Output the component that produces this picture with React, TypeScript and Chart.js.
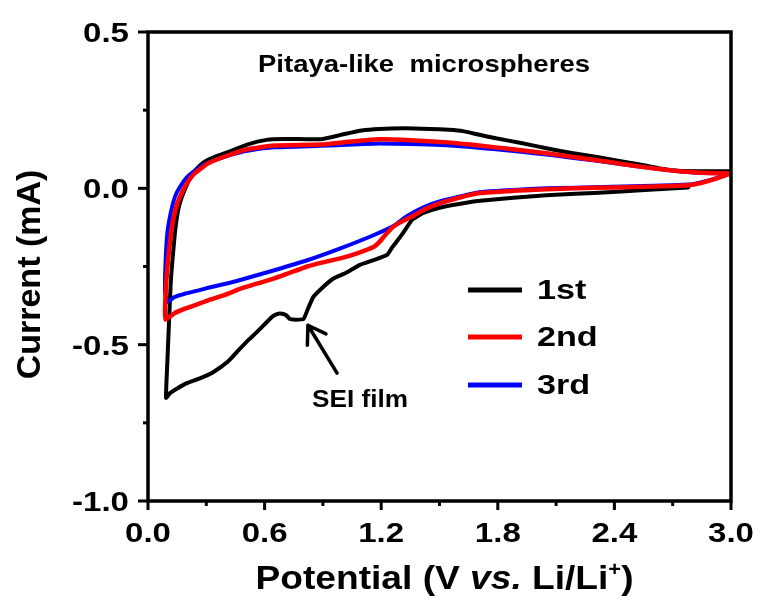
import React, { useEffect, useRef } from "react";
import { Chart, registerables } from "chart.js";

Chart.register(...registerables);

// ---- Data (Potential V, Current mA) ----
// 1st cycle: cathodic sweep from OCV down to 0.09 V, then anodic back to 3.0 V
const cycle1V = [
  2.78, 2.6, 2.39, 2.2, 2.05, 1.88, 1.71, 1.6, 1.5, 1.42, 1.36, 1.31, 1.28, 1.255, 1.23, 1.16, 1.09, 1.02, 0.95,
  0.885, 0.85, 0.82, 0.8, 0.76, 0.73, 0.71, 0.68, 0.66, 0.64, 0.6, 0.56, 0.52, 0.47, 0.41, 0.335, 0.27, 0.2, 0.15,
  0.113, 0.093,
  0.1, 0.11, 0.118, 0.13, 0.14, 0.155, 0.17, 0.19, 0.21, 0.24, 0.27, 0.3, 0.34, 0.43, 0.51, 0.61, 0.7, 0.89, 1.0,
  1.1, 1.19, 1.32, 1.45, 1.55, 1.62, 1.7, 1.79, 1.92, 2.05, 2.18, 2.31, 2.44, 2.56, 2.65, 2.72, 2.85, 3.0,
];
const cycle1I = [
  0.003, -0.004, -0.012, -0.017, -0.022, -0.03, -0.04, -0.05, -0.062, -0.078, -0.1, -0.145, -0.17, -0.19, -0.213,
  -0.23, -0.245, -0.27, -0.29, -0.325, -0.348, -0.39, -0.418, -0.42, -0.418, -0.405, -0.4, -0.403, -0.41, -0.435,
  -0.46, -0.483, -0.515, -0.555, -0.588, -0.607, -0.623, -0.64, -0.655, -0.67,
  -0.55, -0.4, -0.29, -0.2, -0.134, -0.07, -0.035, -0.003, 0.025, 0.055, 0.075, 0.088, 0.1, 0.12, 0.14, 0.155,
  0.158, 0.157, 0.172, 0.185, 0.19, 0.192, 0.19, 0.187, 0.183, 0.172, 0.16, 0.145, 0.128, 0.113, 0.1, 0.086, 0.073,
  0.062, 0.056, 0.055, 0.055,
];

// 2nd cycle
const cycle2V = [
  3.0, 2.92, 2.85, 2.78, 2.6, 2.39, 2.2, 2.05, 1.88, 1.71, 1.6, 1.5, 1.42, 1.37, 1.3, 1.26, 1.22, 1.19, 1.16, 1.08,
  0.99, 0.9, 0.82, 0.73, 0.65, 0.56, 0.48, 0.4, 0.31, 0.25, 0.19, 0.135, 0.09,
  0.088, 0.095, 0.11, 0.13, 0.15, 0.18, 0.21, 0.24, 0.31, 0.41, 0.51, 0.65, 0.89, 1.05, 1.19, 1.35, 1.54, 1.66,
  1.79, 1.92, 2.05, 2.18, 2.31, 2.44, 2.56, 2.7, 2.82, 3.0,
];
const cycle2I = [
  0.048, 0.03, 0.018, 0.01, 0.006, 0.003, 0.0, -0.003, -0.008, -0.015, -0.03, -0.048, -0.068, -0.086, -0.108,
  -0.124, -0.15, -0.172, -0.188, -0.207, -0.224, -0.237, -0.25, -0.27, -0.288, -0.305, -0.32, -0.34, -0.358, -0.372,
  -0.385, -0.4, -0.42,
  -0.38, -0.29, -0.19, -0.1, -0.05, -0.006, 0.025, 0.048, 0.08, 0.105, 0.125, 0.137, 0.14, 0.15, 0.157, 0.154, 0.147,
  0.14, 0.131, 0.122, 0.112, 0.101, 0.09, 0.078, 0.067, 0.057, 0.051, 0.048,
];

// 3rd cycle
const cycle3V = [
  3.0, 2.92, 2.85, 2.78, 2.6, 2.39, 2.2, 2.05, 1.88, 1.71, 1.6, 1.5, 1.42, 1.33, 1.27, 1.16, 0.99, 0.82, 0.65, 0.47,
  0.4, 0.31, 0.25, 0.19, 0.135, 0.1,
  0.088, 0.09, 0.1, 0.12, 0.14, 0.165, 0.2, 0.24, 0.31, 0.41, 0.51, 0.65, 0.89, 1.05, 1.19, 1.35, 1.54, 1.66, 1.79,
  1.92, 2.05, 2.18, 2.31, 2.44, 2.56, 2.7, 2.82, 3.0,
];
const cycle3I = [
  0.048, 0.032, 0.02, 0.012, 0.008, 0.005, 0.002, 0.0, -0.005, -0.012, -0.027, -0.042, -0.06, -0.09, -0.118, -0.15,
  -0.192, -0.23, -0.262, -0.294, -0.305, -0.318, -0.328, -0.337, -0.348, -0.364,
  -0.33, -0.24, -0.14, -0.07, -0.025, 0.005, 0.035, 0.056, 0.082, 0.104, 0.12, 0.131, 0.136, 0.14, 0.143, 0.142,
  0.138, 0.132, 0.125, 0.117, 0.108, 0.098, 0.088, 0.077, 0.067, 0.057, 0.05, 0.048,
];

const seriesNames = ["1st", "2nd", "3rd"];
const seriesColors = ["#000000", "#ff0000", "#0000ff"];

// ---- Axis ticks ----
const xMajorTicks = [0, 0.6, 1.2, 1.8, 2.4, 3.0];
const xTickLabels = ["0.0", "0.6", "1.2", "1.8", "2.4", "3.0"];
const xMinorTicks = [0.3, 0.9, 1.5, 2.1, 2.7];
const yMajorTicks = [0.5, 0.0, -0.5, -1.0];
const yTickLabels = ["0.5", "0.0", "-0.5", "-1.0"];
const yMinorTicks = [0.25, -0.25, -0.75];

// annotation: arrow pointing to SEI film feature (data coordinates)
const arrowTip = { x: 0.823, y: -0.438 };
const arrowTail = { x: 0.973, y: -0.591 };

const FONT = '"Liberation Sans", Arial, sans-serif';

function toPoints(xs: number[], ys: number[]) {
  return xs.map((x, i) => ({ x, y: ys[i] }));
}

function drawText(
  ctx: CanvasRenderingContext2D,
  text: string,
  x: number,
  y: number,
  font: string,
  align: "left" | "center" | "right",
  scaleX: number
) {
  ctx.save();
  ctx.font = font;
  ctx.textAlign = "left";
  ctx.textBaseline = "alphabetic";
  const w = ctx.measureText(text).width * scaleX;
  const left = align === "center" ? x - w / 2 : align === "right" ? x - w : x;
  ctx.translate(left, y);
  ctx.scale(scaleX, 1);
  ctx.fillText(text, 0, 0);
  ctx.restore();
}

const decorPlugin = {
  id: "decor",
  afterDraw(chart: any) {
    const ctx: CanvasRenderingContext2D = chart.ctx;
    const xs = chart.scales.x;
    const ys = chart.scales.y;
    const { left, right, top, bottom } = chart.chartArea;
    ctx.save();
    ctx.fillStyle = "#000";
    ctx.strokeStyle = "#000";

    // frame
    ctx.lineWidth = 3.5;
    ctx.lineJoin = "miter";
    ctx.strokeRect(left, top, right - left, bottom - top);

    // ticks
    ctx.lineWidth = 3;
    ctx.lineCap = "butt";
    const tick = (x1: number, y1: number, x2: number, y2: number) => {
      ctx.beginPath();
      ctx.moveTo(x1, y1);
      ctx.lineTo(x2, y2);
      ctx.stroke();
    };
    xMajorTicks.forEach((v) => {
      const px = xs.getPixelForValue(v);
      tick(px, bottom, px, bottom + 9);
    });
    xMinorTicks.forEach((v) => {
      const px = xs.getPixelForValue(v);
      tick(px, bottom, px, bottom + 5);
    });
    yMajorTicks.forEach((v) => {
      const py = ys.getPixelForValue(v);
      tick(left, py, left - 10, py);
    });
    yMinorTicks.forEach((v) => {
      const py = ys.getPixelForValue(v);
      tick(left, py, left - 5, py);
    });

    // tick labels
    const tickFont = `bold 28px ${FONT}`;
    xMajorTicks.forEach((v, i) => {
      drawText(ctx, xTickLabels[i], xs.getPixelForValue(v), bottom + 41, tickFont, "center", 1.18);
    });
    yMajorTicks.forEach((v, i) => {
      drawText(ctx, yTickLabels[i], left - 19, ys.getPixelForValue(v) + 10, tickFont, "right", 1.18);
    });

    // y axis title
    ctx.save();
    ctx.translate(31, (top + bottom) / 2 + 8);
    ctx.rotate(-Math.PI / 2);
    ctx.font = `bold 34px ${FONT}`;
    ctx.textAlign = "center";
    ctx.textBaseline = "middle";
    ctx.fillText("Current (mA)", 0, 0);
    ctx.restore();

    // x axis title with mixed styles
    const parts = [
      { t: "Potential (V ", f: `bold 34px ${FONT}`, dy: 0 },
      { t: "vs.", f: `italic bold 34px ${FONT}`, dy: 0 },
      { t: " Li/Li", f: `bold 34px ${FONT}`, dy: 0 },
      { t: "+", f: `bold 20px ${FONT}`, dy: -13 },
      { t: ")", f: `bold 34px ${FONT}`, dy: 0 },
    ];
    let natural = 0;
    parts.forEach((p) => {
      ctx.font = p.f;
      natural += ctx.measureText(p.t).width;
    });
    const targetW = 378;
    const sx = targetW / natural;
    let cx = (left + right) / 2 + 5 - targetW / 2;
    const baseY = 589;
    parts.forEach((p) => {
      ctx.font = p.f;
      const w = ctx.measureText(p.t).width * sx;
      drawText(ctx, p.t, cx, baseY + p.dy, p.f, "left", sx);
      cx += w;
    });

    // inner title
    {
      const f = `bold 24px ${FONT}`;
      ctx.font = f;
      const t = "Pitaya-like  microspheres";
      const s = 332 / ctx.measureText(t).width;
      drawText(ctx, t, 258, 72, f, "left", s);
    }

    // SEI film label
    {
      const f = `bold 23px ${FONT}`;
      ctx.font = f;
      const t = "SEI film";
      const s = 96 / ctx.measureText(t).width;
      drawText(ctx, t, 312, 407, f, "left", s);
    }

    // arrow
    {
      const tx = xs.getPixelForValue(arrowTip.x);
      const ty = ys.getPixelForValue(arrowTip.y);
      const bx = xs.getPixelForValue(arrowTail.x);
      const by = ys.getPixelForValue(arrowTail.y);
      const ang = Math.atan2(by - ty, bx - tx);
      const spread = (33 * Math.PI) / 180;
      const len = 20;
      ctx.lineWidth = 3.5;
      ctx.lineCap = "round";
      ctx.lineJoin = "round";
      ctx.beginPath();
      ctx.moveTo(bx, by);
      ctx.lineTo(tx, ty);
      ctx.moveTo(tx + len * Math.cos(ang - spread), ty + len * Math.sin(ang - spread));
      ctx.lineTo(tx, ty);
      ctx.lineTo(tx + len * Math.cos(ang + spread), ty + len * Math.sin(ang + spread));
      ctx.stroke();
    }

    // legend
    const legendY = [290, 337, 385];
    seriesNames.forEach((name, i) => {
      ctx.strokeStyle = seriesColors[i];
      ctx.lineWidth = 5;
      ctx.lineCap = "butt";
      ctx.beginPath();
      ctx.moveTo(468, legendY[i]);
      ctx.lineTo(522, legendY[i]);
      ctx.stroke();
      ctx.fillStyle = "#000";
      drawText(ctx, name, 537, legendY[i] + 9, `bold 28px ${FONT}`, "left", 1.22);
    });

    ctx.restore();
  },
};

export default function App() {
  const canvasRef = useRef<HTMLCanvasElement | null>(null);

  useEffect(() => {
    const canvas = canvasRef.current;
    if (!canvas) return;
    const chart = new Chart(canvas, {
      type: "line",
      data: {
        datasets: [
          {
            label: seriesNames[0],
            data: toPoints(cycle1V, cycle1I),
            borderColor: seriesColors[0],
            borderWidth: 4,
            order: 3,
          },
          {
            label: seriesNames[1],
            data: toPoints(cycle2V, cycle2I),
            borderColor: seriesColors[1],
            borderWidth: 4.5,
            order: 1,
          },
          {
            label: seriesNames[2],
            data: toPoints(cycle3V, cycle3I),
            borderColor: seriesColors[2],
            borderWidth: 4,
            order: 2,
          },
        ],
      },
      options: {
        animation: false,
        responsive: true,
        maintainAspectRatio: false,
        devicePixelRatio: 1,
        layout: { padding: { left: 148, right: 30, top: 32, bottom: 100 } },
        elements: {
          point: { radius: 0, hoverRadius: 0 },
          line: { tension: 0.15, fill: false, borderJoinStyle: "round", borderCapStyle: "round" },
        },
        scales: {
          x: { type: "linear", min: 0, max: 3, display: false },
          y: { type: "linear", min: -1, max: 0.5, display: false },
        },
        plugins: {
          legend: { display: false },
          tooltip: { enabled: false },
        },
      },
      plugins: [decorPlugin],
    });
    return () => chart.destroy();
  }, []);

  return (
    <div style={{ position: "fixed", left: 0, top: 0, width: 761, height: 601, background: "#fff" }}>
      <canvas ref={canvasRef} />
    </div>
  );
}
